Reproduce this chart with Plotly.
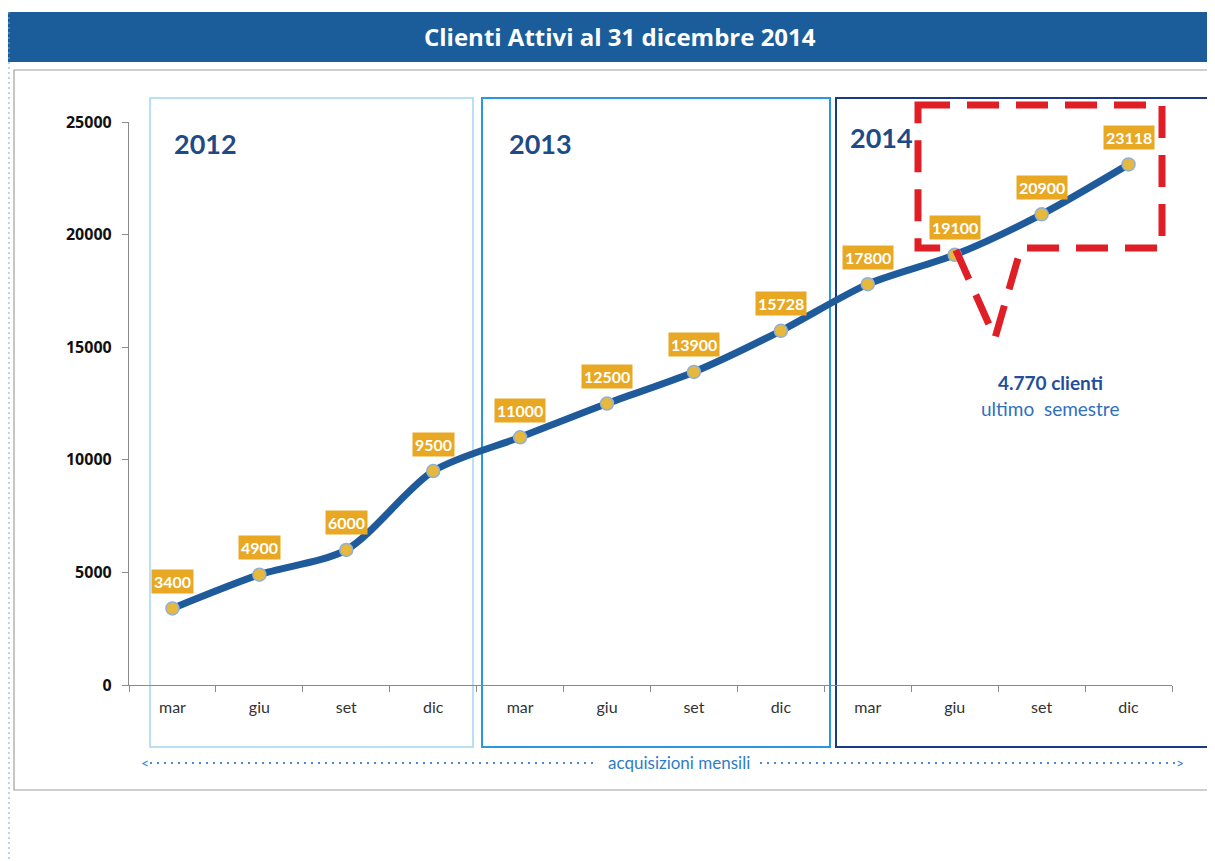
import plotly.graph_objects as go

# ---- data ----
periods = ["mar 2012", "giu 2012", "set 2012", "dic 2012",
           "mar 2013", "giu 2013", "set 2013", "dic 2013",
           "mar 2014", "giu 2014", "set 2014", "dic 2014"]
month_labels = ["mar", "giu", "set", "dic"] * 3
clienti = [3400, 4900, 6000, 9500, 11000, 12500, 13900, 15728, 17800, 19100, 20900, 23118]
years = ["2012", "2013", "2014"]
y_ticks = [0, 5000, 10000, 15000, 20000, 25000]

# ---- page-pixel helpers (page has an 8px body offset) ----
OFF = 8
FW, FH = 1215 - OFF, 861 - OFF
L, R, T, B = 129 - OFF, 1172 - OFF, 122 - OFF, 685 - OFF
W, H = R - L, B - T


def px(x):
    return (x - OFF - L) / W


def py(y):
    return (B - (y - OFF)) / H


FONT = "Lato"

fig = go.Figure()
fig.add_trace(go.Scatter(
    x=periods, y=clienti, mode="lines+markers",
    line=dict(color="#1F5A9A", width=7, shape="spline", smoothing=0.8),
    marker=dict(size=13, color="#E6B83C", line=dict(color="#8FB0D8", width=1.5)),
    hoverinfo="x+y", showlegend=False,
))

annotations = []
# data labels
for p, v in zip(periods, clienti):
    annotations.append(dict(
        x=p, y=v, xref="x", yref="y", text=f"<b>{v}</b>", showarrow=False,
        yshift=27, bgcolor="#E8A823", borderpad=2,
        font=dict(family=FONT, size=16, color="white"),
    ))

# title
annotations.append(dict(
    x=px(620), y=py(37), xref="paper", yref="paper", showarrow=False,
    text="<b>Clienti Attivi al 31 dicembre 2014</b>",
    font=dict(family="Open Sans", size=24, color="white"),
    xanchor="center", yanchor="middle",
))

# year labels
year_pos = [(172, 143), (507, 143), (848, 137)]
for yr, (xp, yp) in zip(years, year_pos):
    annotations.append(dict(
        x=px(xp), y=py(yp), xref="paper", yref="paper", showarrow=False,
        text=f"<b>{yr}</b>", xanchor="left", yanchor="middle",
        font=dict(family=FONT, size=27, color="#1F4A88"),
    ))

# callout text
annotations.append(dict(
    x=px(1050), y=py(382), xref="paper", yref="paper", showarrow=False,
    text="<b>4.770 clienti</b>", xanchor="center", yanchor="middle",
    font=dict(family=FONT, size=19, color="#1F4E9C"),
))
annotations.append(dict(
    x=px(1050), y=py(408), xref="paper", yref="paper", showarrow=False,
    text="ultimo  semestre", xanchor="center", yanchor="middle",
    font=dict(family=FONT, size=19, color="#2F6FBF"),
))

# acquisizioni mensili
annotations.append(dict(
    x=px(679), y=py(763), xref="paper", yref="paper", showarrow=False,
    text="acquisizioni mensili", xanchor="center", yanchor="middle",
    font=dict(family=FONT, size=17, color="#2F7CC8"),
))
annotations.append(dict(
    x=px(145), y=py(762), xref="paper", yref="paper", showarrow=False,
    text="<", xanchor="center", yanchor="middle",
    font=dict(family=FONT, size=14, color="#2F7CC8"),
))
annotations.append(dict(
    x=px(1180), y=py(762), xref="paper", yref="paper", showarrow=False,
    text=">", xanchor="center", yanchor="middle",
    font=dict(family=FONT, size=14, color="#2F7CC8"),
))

shapes = []
# title bar
shapes.append(dict(type="rect", xref="paper", yref="paper",
                   x0=px(8), x1=px(1225), y0=py(62), y1=py(12),
                   fillcolor="#1B5C9A", line=dict(width=0), layer="below"))
# outer frame (top, left, bottom)
shapes.append(dict(type="path", xref="paper", yref="paper",
                   path=f"M {px(1225)},{py(70)} L {px(14)},{py(70)} L {px(14)},{py(790)} L {px(1225)},{py(790)}",
                   line=dict(color="#A0A0A0", width=1.2), layer="below"))
# page edge dotted line
shapes.append(dict(type="line", xref="paper", yref="paper",
                   x0=px(9), x1=px(9), y0=py(12), y1=py(870),
                   line=dict(color="#7FA8D8", width=1, dash="2px,3px"), layer="below"))
# year boxes
boxes = [(150, 473, "#A5D6F2", 1.5), (482, 830, "#2A98E0", 2), (836, 1208, "#1A3A86", 2)]
for x0, x1, col, w in boxes:
    shapes.append(dict(type="rect", xref="paper", yref="paper",
                       x0=px(x0), x1=px(x1), y0=py(747), y1=py(98),
                       line=dict(color=col, width=w), fillcolor="rgba(0,0,0,0)", layer="below"))
# red callout
call = [(918, 105), (1162, 105), (1162, 248), (1021, 248), (995, 338), (955, 248), (918, 248)]
path = "M " + " L ".join(f"{px(a)},{py(b)}" for a, b in call) + " Z"
shapes.append(dict(type="path", xref="paper", yref="paper", path=path,
                   line=dict(color="#E01E26", width=7, dash="32px,17px"), layer="above"))
# dotted arrow line
for x0, x1 in [(150, 598), (760, 1176)]:
    shapes.append(dict(type="line", xref="paper", yref="paper",
                       x0=px(x0), x1=px(x1), y0=py(763), y1=py(763),
                       line=dict(color="#4A8AD0", width=1.8, dash="2px,5px"), layer="below"))

fig.update_layout(
    width=FW, height=FH,
    margin=dict(l=L, r=FW - R, t=T, b=FH - B),
    paper_bgcolor="white", plot_bgcolor="rgba(0,0,0,0)",
    annotations=annotations, shapes=shapes,
    font=dict(family=FONT),
    xaxis=dict(
        type="category", categoryorder="array", categoryarray=periods,
        tickvals=periods, ticktext=month_labels, tickson="boundaries",
        range=[-0.5, 11.5], showgrid=False, zeroline=False,
        showline=True, linecolor="#8A8A8A", linewidth=1.2,
        ticks="outside", ticklen=6, tickcolor="#8A8A8A",
        tickfont=dict(family=FONT, size=16, color="#333333"),
        ticklabelstandoff=8,
    ),
    yaxis=dict(
        range=[0, 25000], tickvals=y_ticks, ticktext=[str(t) for t in y_ticks],
        showgrid=False, zeroline=False,
        showline=True, linecolor="#8A8A8A", linewidth=1.2,
        ticks="outside", ticklen=6, tickcolor="#8A8A8A",
        tickfont=dict(family="Open Sans", size=16, color="#111111", weight="bold"),
        ticklabelstandoff=7,
    ),
)

fig.write_html("out.html")
